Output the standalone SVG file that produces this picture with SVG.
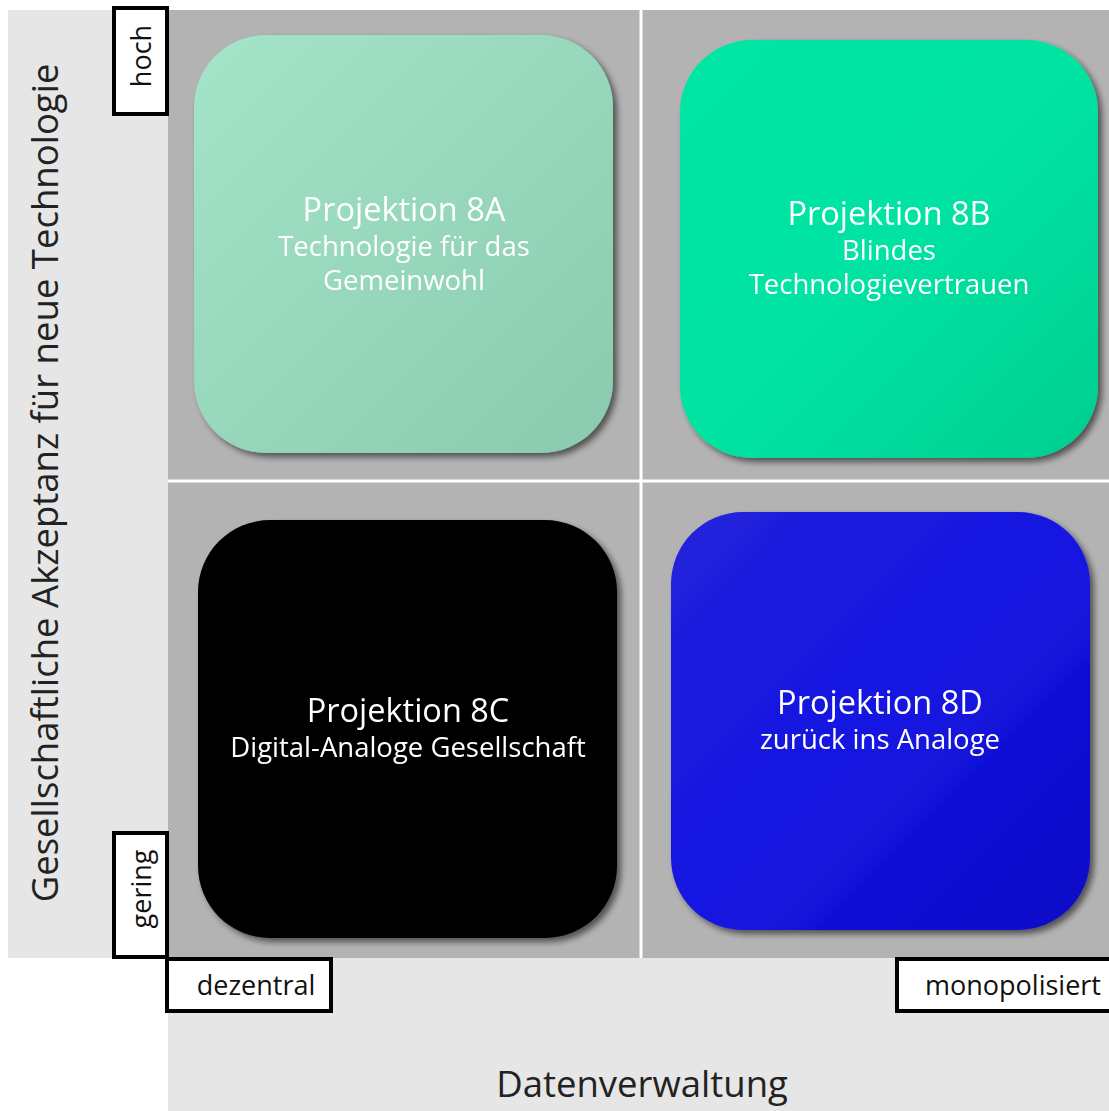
<svg xmlns="http://www.w3.org/2000/svg" width="1109" height="1111" viewBox="0 0 1109 1111">
<defs>
<style>
.t{font-family:"Open Sans","Liberation Sans",sans-serif;fill:#fff;text-anchor:middle}
.h{font-size:32.5px}
.s{font-size:27.5px}
.ax{font-family:"Open Sans","Liberation Sans",sans-serif;fill:#222;text-anchor:middle;font-size:36.5px}
.lb{font-family:"Open Sans","Liberation Sans",sans-serif;fill:#111;text-anchor:middle;font-size:27px}
.lbox{fill:#fff;stroke:#000;stroke-width:4}
</style>
<filter id="sh" x="-10%" y="-10%" width="130%" height="130%">
<feGaussianBlur in="SourceAlpha" stdDeviation="3"/>
<feOffset dx="4" dy="4" result="o"/>
<feComponentTransfer><feFuncA type="linear" slope="0.55"/></feComponentTransfer>
<feMerge><feMergeNode/><feMergeNode in="SourceGraphic"/></feMerge>
</filter>
<linearGradient id="gA" x1="0" y1="0" x2="1" y2="1">
<stop offset="0" stop-color="#a4e4c9"/><stop offset="0.5" stop-color="#97d8bc"/><stop offset="1" stop-color="#8acaae"/>
</linearGradient>
<linearGradient id="gB" x1="0" y1="0" x2="1" y2="1">
<stop offset="0" stop-color="#00e6a4"/><stop offset="0.5" stop-color="#00e3a3"/><stop offset="1" stop-color="#00cf90"/>
</linearGradient>
<linearGradient id="gD" x1="0" y1="0" x2="1" y2="1">
<stop offset="0" stop-color="#2323dc"/><stop offset="0.5" stop-color="#1515e2"/><stop offset="1" stop-color="#0a0ac6"/>
</linearGradient>
</defs>
<rect width="1109" height="1111" fill="#fff"/>
<rect x="8" y="10" width="160" height="948" fill="#e6e6e6"/>
<rect x="168" y="958" width="941" height="153" fill="#e6e6e6"/>
<rect x="168" y="10" width="941" height="948" fill="#b3b3b3"/>
<g id="grid">
<line x1="641" y1="10" x2="641" y2="958" stroke="#fff" stroke-width="3"/>
<line x1="168" y1="481" x2="1109" y2="481" stroke="#fff" stroke-width="3"/>
</g>
<g id="node-8A" filter="url(#sh)">
<rect x="194" y="35" width="419" height="418" rx="72" fill="url(#gA)"/>
<text class="t h" x="404" y="221">Projektion 8A</text>
<text class="t s" x="404" y="256">Technologie für das</text>
<text class="t s" x="404" y="290">Gemeinwohl</text>
</g>
<g id="node-8B" filter="url(#sh)">
<rect x="680" y="40" width="418" height="418" rx="72" fill="url(#gB)"/>
<text class="t h" x="889" y="225">Projektion 8B</text>
<text class="t s" x="889" y="260">Blindes</text>
<text class="t s" x="889" y="294">Technologievertrauen</text>
</g>
<g id="node-8C" filter="url(#sh)">
<rect x="198" y="520" width="419" height="418" rx="72" fill="#000"/>
<text class="t h" x="408" y="722">Projektion 8C</text>
<text class="t s" x="408" y="757">Digital-Analoge Gesellschaft</text>
</g>
<g id="node-8D" filter="url(#sh)">
<rect x="671" y="512" width="419" height="418" rx="72" fill="url(#gD)"/>
<text class="t h" x="880" y="714">Projektion 8D</text>
<text class="t s" x="880" y="749">zurück ins Analoge</text>
</g>
<g id="labels">
<rect class="lbox" x="114" y="8" width="53" height="106"/>
<text class="lb" transform="translate(151,56) rotate(-90)">hoch</text>
<rect class="lbox" x="114" y="833" width="53" height="124"/>
<text class="lb" transform="translate(151,889) rotate(-90)">gering</text>
<rect class="lbox" x="167" y="959" width="164" height="52"/>
<text class="lb" x="256" y="995">dezentral</text>
<rect class="lbox" x="897" y="959" width="214" height="52"/>
<text class="lb" x="1013" y="995">monopolisiert</text>
</g>
<text class="ax" transform="translate(58,483) rotate(-90)">Gesellschaftliche Akzeptanz für neue Technologie</text>
<text class="ax" x="642" y="1097">Datenverwaltung</text>
</svg>
